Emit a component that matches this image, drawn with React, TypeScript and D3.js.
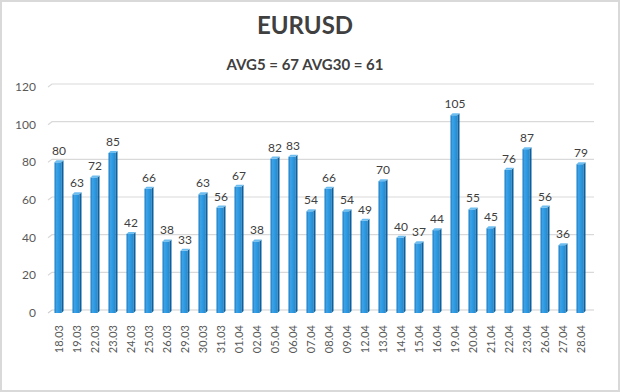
import { scaleBand, scaleLinear, range } from 'd3';

const categories = [
  '18.03', '19.03', '22.03', '23.03', '24.03', '25.03', '26.03', '29.03', '30.03', '31.03',
  '01.04', '02.04', '05.04', '06.04', '07.04', '08.04', '09.04', '12.04', '13.04', '14.04',
  '15.04', '16.04', '19.04', '20.04', '21.04', '22.04', '23.04', '26.04', '27.04', '28.04',
];
const values = [
  80, 63, 72, 85, 42, 66, 38, 33, 63, 56,
  67, 38, 82, 83, 54, 66, 54, 49, 70, 40,
  37, 44, 105, 55, 45, 76, 87, 56, 36, 79,
];
const yTicks = [0, 20, 40, 60, 80, 100, 120];
const title = 'EURUSD';
const subtitle = 'AVG5 = 67 AVG30 = 61';

const W = 620;
const H = 392;
const FONT = 'Lato, "Open Sans", sans-serif';

export default function App() {
  const x = scaleBand<string>().domain(categories).range([50, 590]);
  const y = scaleLinear().domain([0, 120]).range([313, 87]);
  const depth = 3;
  const front = 7;
  const side = 2;

  return (
    <svg width={W} height={H} style={{ position: 'absolute', left: 0, top: 0 }} fontFamily={FONT}>
      <defs>
        <linearGradient id="barFront" x1="0" x2="1" y1="0" y2="0">
          <stop offset="0%" stopColor="#1a78bf" />
          <stop offset="30%" stopColor="#3ba3e8" />
          <stop offset="100%" stopColor="#1b8bd6" />
        </linearGradient>
      </defs>
      <rect x={1} y={1} width={W - 2} height={H - 2} fill="#fff" stroke="#d9d9d9" strokeWidth={2} />

      <text x={305} y={34} textAnchor="middle" fontSize={24} fontWeight="bold" fill="#404040">
        {title}
      </text>
      <text x={305} y={70} textAnchor="middle" fontSize={15} fontWeight="bold" fill="#404040">
        {subtitle}
      </text>

      {yTicks.map((t) => (
        <g key={t}>
          <path
            d={`M48,${y(t)} L52,${y(t) - depth} L594,${y(t) - depth}`}
            fill="none"
            stroke={t === 0 ? '#cfcfcf' : '#d9d9d9'}
            strokeWidth={1.2}
          />
          <text x={36} y={y(t) + 4} textAnchor="end" fontSize={12} fill="#595959">
            {t}
          </text>
        </g>
      ))}

      {range(categories.length).map((i) => {
        const c = categories[i];
        const v = values[i];
        const cx = (x(c) ?? 0) + x.bandwidth() / 2;
        const x0 = cx - (front + side) / 2;
        const top = y(v);
        const base = y(0);
        return (
          <g key={c}>
            <rect x={x0} y={top} width={front} height={base - top} fill="url(#barFront)" />
            <path
              d={`M${x0 + front},${top} L${x0 + front + side},${top - 2} L${x0 + front + side},${base - 2} L${x0 + front},${base} Z`}
              fill="#0e5f9a"
            />
            <path
              d={`M${x0},${top} L${x0 + side},${top - 2} L${x0 + front + side},${top - 2} L${x0 + front},${top} Z`}
              fill="#6cbdf0"
            />
            <text x={cx} y={top - 7} textAnchor="middle" fontSize={12} fill="#404040">
              {v}
            </text>
            <text
              transform={`translate(${cx + 4},325) rotate(-90)`}
              textAnchor="end"
              fontSize={11}
              fill="#595959"
            >
              {c}
            </text>
          </g>
        );
      })}
    </svg>
  );
}
